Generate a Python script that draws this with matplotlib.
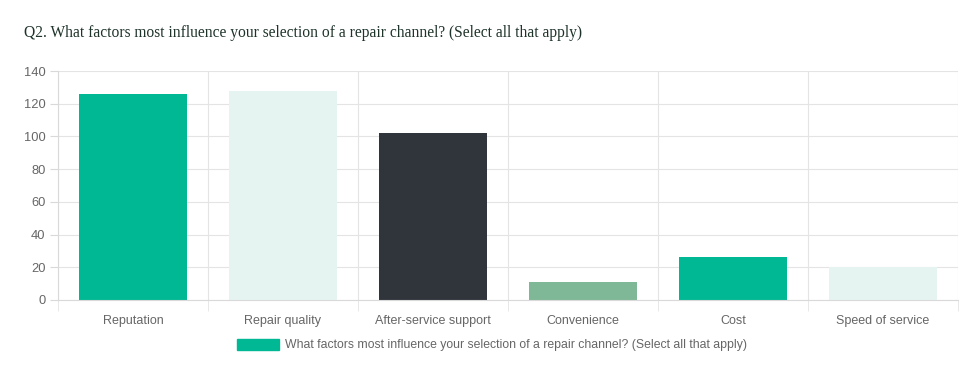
import numpy as np
import matplotlib.pyplot as plt
from matplotlib.patches import Patch

categories = ['Reputation', 'Repair quality', 'After-service support', 'Convenience', 'Cost', 'Speed of service']
values = [126, 128, 102, 11, 26, 20]
colors = ['#00b894', '#e6f4f1', '#2f353b', '#7fb896', '#00b894', '#e6f4f1']
title = 'Q2. What factors most influence your selection of a repair channel? (Select all that apply)'
legend_label = 'What factors most influence your selection of a repair channel? (Select all that apply)'

plt.rcParams['font.family'] = 'Liberation Sans'

W, H = 979, 382
fig = plt.figure(figsize=(W / 100, H / 100), dpi=100)
ax = fig.add_axes([58 / W, 1 - 300 / H, (958 - 58) / W, (300 - 71) / H])

x = np.arange(len(categories))
ax.bar(x, values, width=0.72, color=colors, zorder=2)
ax.set_xlim(-0.5, len(categories) - 0.5)
ax.set_ylim(0, 140)
ax.set_yticks(np.arange(0, 141, 20))
ax.set_xticks(x)
ax.set_xticklabels(categories)

# vertical grid lines between categories
for b in np.arange(-0.5, len(categories), 1.0):
    ax.axvline(b, color='#e4e4e4', lw=0.8, zorder=1)
ax.yaxis.grid(True, color='#e4e4e4', lw=0.8, zorder=1)
for s in ['top', 'right']:
    ax.spines[s].set_visible(False)
ax.spines['left'].set_color('#d9d9d9')
ax.spines['bottom'].set_color('#d9d9d9')
ax.tick_params(axis='y', length=6, color='#d9d9d9', labelcolor='#666666', labelsize=9.3, pad=3)
ax.tick_params(axis='x', length=0, labelcolor='#666666', labelsize=9, pad=11)
# minor ticks on category boundaries
ax.set_xticks(np.arange(-0.5, len(categories), 1.0), minor=True)
ax.tick_params(axis='x', which='minor', length=8, color='#e4e4e4')

fig.text(24 / W, 1 - 33 / H, title, fontsize=11.2, family='Liberation Serif',
         color='#1e3329', va='center', ha='left')

fig.legend(handles=[Patch(color='#00b894')], labels=[legend_label],
           loc='center', bbox_to_anchor=(492 / W, 1 - 345 / H), frameon=False,
           fontsize=8.8, handlelength=3.5, handleheight=1.0, handletextpad=0.5,
           labelcolor='#666666')

fig.savefig('out.png', dpi=100)
